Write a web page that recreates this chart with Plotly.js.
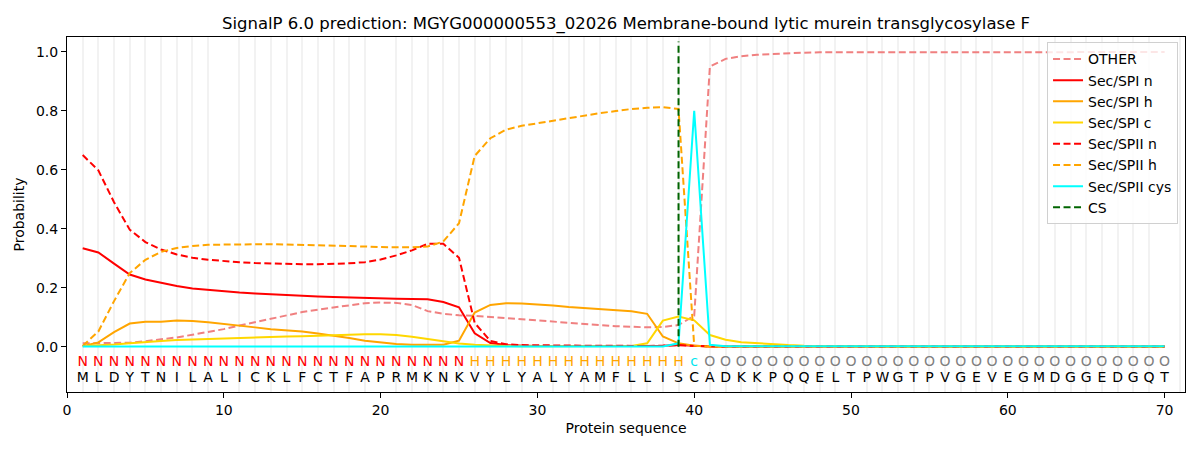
<!DOCTYPE html>
<html>
<head>
<meta charset="utf-8">
<script src="https://cdn.plot.ly/plotly-3.0.1.min.js"></script>
<style>
  html, body { margin: 0; padding: 0; background: #ffffff; }
  #chart { width: 1200px; height: 450px; }
</style>
</head>
<body>
<div id="chart"></div>
<script>
const CHART = document.getElementById('chart');

const TITLE = 'SignalP 6.0 prediction: MGYG000000553_02026 Membrane-bound lytic murein transglycosylase F';

// amino acid sequence and predicted region label per position
const sequence = 'MLDYTNILALICKLFCTFAPRMKNKVYLYALYAMFLLISCADKKPQQELTPWGTPVGEVEGMDGGEDGQT'.split('');
const regionLabels = 'NNNNNNNNNNNNNNNNNNNNNNNNNHHHHHHHHHHHHHHcOOOOOOOOOOOOOOOOOOOOOOOOOOOOOO'.split('');
const positions = sequence.map((_, i) => i + 1);
const cleavageSite = 39;

// probabilities, one per position
const other = [0.012, 0.012, 0.012, 0.014, 0.019, 0.025, 0.032, 0.041, 0.050, 0.060,
  0.072, 0.084, 0.096, 0.108, 0.118, 0.126, 0.134, 0.142, 0.148, 0.150,
  0.149, 0.142, 0.121, 0.112, 0.107, 0.105, 0.101, 0.097, 0.093, 0.088,
  0.084, 0.080, 0.076, 0.073, 0.070, 0.068, 0.066, 0.067, 0.074, 0.105,
  0.950, 0.976, 0.985, 0.990, 0.993, 0.995, 0.997, 0.998, 0.998, 0.999,
  0.999, 0.999, 0.999, 0.999, 0.999, 0.999, 0.999, 0.999, 0.999, 0.999,
  0.999, 0.999, 0.999, 0.999, 0.999, 0.999, 0.999, 0.999, 0.999, 0.999];

const spiN = [0.334, 0.320, 0.282, 0.245, 0.228, 0.217, 0.206, 0.198, 0.193, 0.188,
  0.184, 0.181, 0.178, 0.176, 0.174, 0.171, 0.169, 0.167, 0.165, 0.164,
  0.163, 0.162, 0.161, 0.152, 0.134, 0.046, 0.013, 0.006, 0.004, 0.003,
  0.003, 0.003, 0.003, 0.003, 0.003, 0.003, 0.003, 0.004, 0.006, 0.003,
  0.001, 0.001, 0.001, 0.001, 0.001, 0.001, 0.001, 0.001, 0.001, 0.001,
  0.001, 0.001, 0.001, 0.001, 0.001, 0.001, 0.001, 0.001, 0.001, 0.001,
  0.001, 0.001, 0.001, 0.001, 0.001, 0.001, 0.001, 0.001, 0.001, 0.001];

const spiH = [0.002, 0.015, 0.050, 0.079, 0.085, 0.085, 0.089, 0.088, 0.083, 0.078,
  0.073, 0.066, 0.060, 0.057, 0.052, 0.045, 0.038, 0.030, 0.021, 0.015,
  0.010, 0.007, 0.006, 0.007, 0.021, 0.116, 0.142, 0.148, 0.147, 0.144,
  0.140, 0.135, 0.131, 0.128, 0.124, 0.121, 0.112, 0.035, 0.012, 0.004,
  0.001, 0.001, 0.001, 0.001, 0.001, 0.001, 0.001, 0.001, 0.001, 0.001,
  0.001, 0.001, 0.001, 0.001, 0.001, 0.001, 0.001, 0.001, 0.001, 0.001,
  0.001, 0.001, 0.001, 0.001, 0.001, 0.001, 0.001, 0.001, 0.001, 0.001];

const spiC = [0.003, 0.005, 0.008, 0.012, 0.017, 0.020, 0.023, 0.025, 0.027, 0.029,
  0.031, 0.033, 0.035, 0.035, 0.036, 0.038, 0.040, 0.042, 0.043, 0.043,
  0.040, 0.034, 0.027, 0.019, 0.011, 0.007, 0.004, 0.003, 0.002, 0.002,
  0.002, 0.002, 0.002, 0.002, 0.002, 0.003, 0.012, 0.089, 0.103, 0.090,
  0.040, 0.024, 0.016, 0.012, 0.008, 0.006, 0.004, 0.003, 0.002, 0.002,
  0.001, 0.001, 0.001, 0.001, 0.001, 0.001, 0.001, 0.001, 0.001, 0.001,
  0.001, 0.001, 0.001, 0.001, 0.001, 0.001, 0.001, 0.001, 0.001, 0.001];

const spiiN = [0.650, 0.598, 0.490, 0.397, 0.355, 0.330, 0.313, 0.302, 0.295, 0.290,
  0.287, 0.284, 0.282, 0.281, 0.280, 0.280, 0.281, 0.283, 0.287, 0.296,
  0.310, 0.327, 0.349, 0.349, 0.302, 0.081, 0.020, 0.009, 0.006, 0.005,
  0.005, 0.004, 0.004, 0.004, 0.003, 0.003, 0.003, 0.004, 0.006, 0.003,
  0.001, 0.001, 0.001, 0.001, 0.001, 0.001, 0.001, 0.001, 0.001, 0.001,
  0.001, 0.001, 0.001, 0.001, 0.001, 0.001, 0.001, 0.001, 0.001, 0.001,
  0.001, 0.001, 0.001, 0.001, 0.001, 0.001, 0.001, 0.001, 0.001, 0.001];

const spiiH = [0.003, 0.052, 0.155, 0.250, 0.295, 0.322, 0.335, 0.342, 0.346, 0.347,
  0.348, 0.348, 0.348, 0.347, 0.346, 0.344, 0.343, 0.341, 0.340, 0.338,
  0.337, 0.337, 0.340, 0.357, 0.419, 0.647, 0.707, 0.736, 0.749, 0.758,
  0.767, 0.776, 0.783, 0.792, 0.799, 0.806, 0.810, 0.812, 0.806, 0.004,
  0.001, 0.001, 0.001, 0.001, 0.001, 0.001, 0.001, 0.001, 0.001, 0.001,
  0.001, 0.001, 0.001, 0.001, 0.001, 0.001, 0.001, 0.001, 0.001, 0.001,
  0.001, 0.001, 0.001, 0.001, 0.001, 0.001, 0.001, 0.001, 0.001, 0.001];

const spiiCys = [0.001, 0.001, 0.001, 0.001, 0.001, 0.001, 0.001, 0.001, 0.001, 0.001,
  0.001, 0.001, 0.001, 0.001, 0.001, 0.001, 0.001, 0.001, 0.001, 0.001,
  0.001, 0.001, 0.001, 0.001, 0.001, 0.001, 0.001, 0.001, 0.001, 0.001,
  0.001, 0.001, 0.001, 0.001, 0.001, 0.001, 0.001, 0.001, 0.012, 0.800,
  0.007, 0.002, 0.002, 0.002, 0.002, 0.002, 0.002, 0.002, 0.002, 0.002,
  0.002, 0.002, 0.002, 0.002, 0.002, 0.002, 0.002, 0.002, 0.002, 0.002,
  0.002, 0.002, 0.002, 0.002, 0.002, 0.002, 0.002, 0.002, 0.002, 0.002];

const FONT = 'DejaVu Sans, sans-serif';
const DASH = '7px,3.5px';
const LABEL_COLORS = { N: '#ff0000', H: '#ffa500', c: '#00e5ee', O: '#808080' };

function line(name, y, color, dash) {
    return {
        x: positions,
        y: y,
        name: name,
        type: 'scatter',
        mode: 'lines',
        line: { color: color, width: 2, dash: dash || 'solid' },
        hoverinfo: 'x+y+name'
    };
}

function textRow(letters, yPos, colors) {
    return {
        x: positions,
        y: letters.map(() => yPos),
        text: letters,
        type: 'scatter',
        mode: 'text',
        textposition: 'middle center',
        textfont: { family: FONT, size: 14, color: colors },
        showlegend: false,
        hoverinfo: 'skip'
    };
}

const traces = [
    line('OTHER', other, '#f08080', DASH),
    line('Sec/SPI n', spiN, '#ff0000'),
    line('Sec/SPI h', spiH, '#ffa500'),
    line('Sec/SPI c', spiC, '#ffd700'),
    line('Sec/SPII n', spiiN, '#ff0000', DASH),
    line('Sec/SPII h', spiiH, '#ffa500', DASH),
    line('Sec/SPII cys', spiiCys, '#00ffff'),
    {
        x: [cleavageSite, cleavageSite],
        y: [0, 1.035],
        name: 'CS',
        type: 'scatter',
        mode: 'lines',
        line: { color: '#006400', width: 2, dash: DASH }
    },
    textRow(regionLabels, -0.054, regionLabels.map(l => LABEL_COLORS[l])),
    textRow(sequence, -0.108, '#000000')
];

const layout = {
    width: 1200,
    height: 450,
    margin: { l: 67, r: 15, t: 37, b: 58 },
    paper_bgcolor: '#ffffff',
    plot_bgcolor: '#ffffff',
    font: { family: FONT, size: 14, color: '#000000' },
    title: {
        text: TITLE,
        font: { family: FONT, size: 16.5, color: '#000000' },
        xref: 'paper',
        x: 0.5,
        xanchor: 'center',
        y: 0.949,
        yanchor: 'middle'
    },
    xaxis: {
        range: [0, 71.3],
        tickmode: 'linear',
        tick0: 0,
        dtick: 10,
        ticks: 'outside',
        ticklen: 5,
        tickcolor: '#000000',
        showgrid: false,
        zeroline: false,
        showline: true,
        mirror: true,
        linecolor: '#000000',
        linewidth: 1,
        minor: { dtick: 1, tick0: 0, showgrid: true, gridcolor: '#f2f2f2', gridwidth: 2 },
        title: { text: 'Protein sequence', font: { size: 14 }, standoff: 6 }
    },
    yaxis: {
        range: [-0.153, 1.05],
        tickmode: 'array',
        tickvals: [0, 0.2, 0.4, 0.6, 0.8, 1.0],
        ticktext: ['0.0', '0.2', '0.4', '0.6', '0.8', '1.0'],
        ticks: 'outside',
        ticklen: 5,
        tickcolor: '#000000',
        showgrid: false,
        zeroline: false,
        showline: true,
        mirror: true,
        linecolor: '#000000',
        linewidth: 1,
        title: { text: 'Probability', font: { size: 14 }, standoff: 8 }
    },
    showlegend: true,
    legend: {
        x: 0.8766,
        y: 0.985,
        xanchor: 'left',
        yanchor: 'top',
        bgcolor: 'rgba(255,255,255,0.8)',
        bordercolor: '#d0d0d0',
        borderwidth: 1,
        font: { family: FONT, size: 14 },
        tracegroupgap: 0
    }
};

Plotly.newPlot(CHART, traces, layout, { displayModeBar: false, staticPlot: true });
</script>
</body>
</html>
